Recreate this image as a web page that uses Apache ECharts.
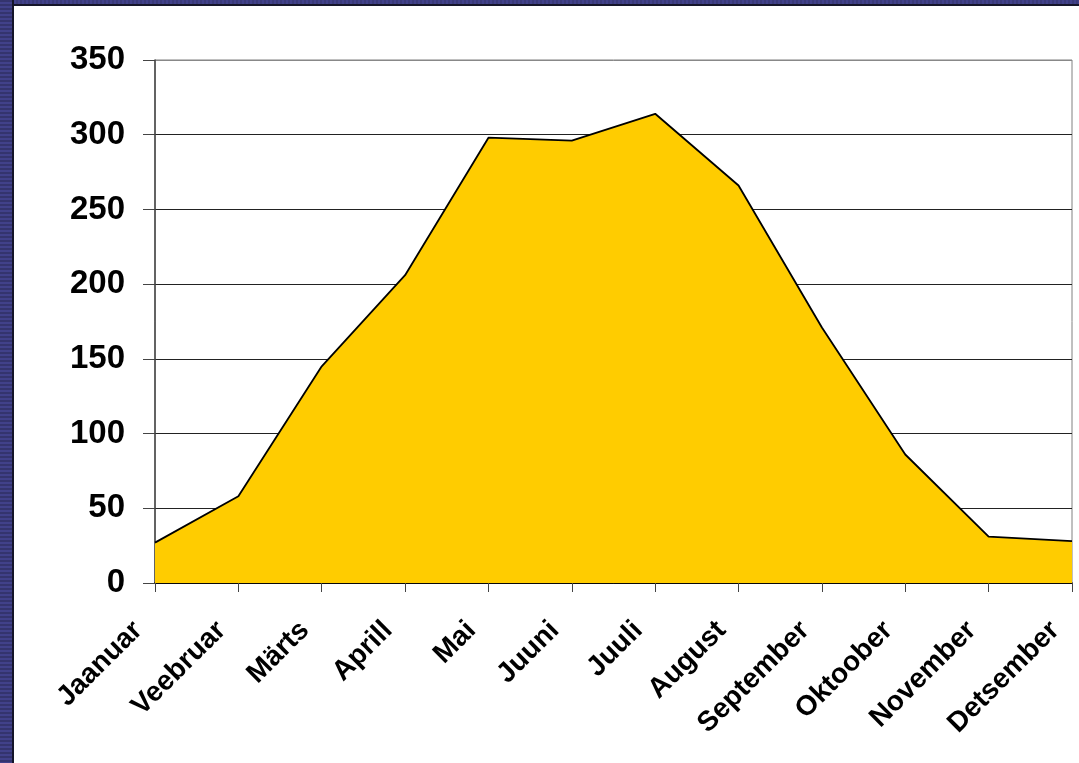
<!DOCTYPE html>
<html>
<head>
<meta charset="utf-8">
<script src="https://cdn.jsdelivr.net/npm/echarts@6/dist/echarts.min.js"></script>
<style>
  html, body { margin: 0; padding: 0; background: #ffffff; }
  #chart { position: absolute; left: 0; top: 0; width: 1079px; height: 763px; }
  .bl { position: absolute; left: 0; top: 0; width: 12px; height: 763px;
        background: repeating-linear-gradient(180deg, #34346e 0px, #34346e 2px, #41418a 2px, #41418a 4px);
        border-right: 2px solid #15152a; z-index: 2; }
  .bt { position: absolute; left: 0; top: 0; width: 1079px; height: 4px;
        background: repeating-linear-gradient(90deg, #3a3a7a 0px, #3a3a7a 2px, #41418a 2px, #41418a 4px);
        border-bottom: 2px solid #15152a; z-index: 2; }
</style>
</head>
<body>
<div id="chart"></div>
<div class="bt"></div>
<div class="bl"></div>
<script>
const categories = ['Jaanuar', 'Veebruar', 'Märts', 'Aprill', 'Mai', 'Juuni', 'Juuli', 'August', 'September', 'Oktoober', 'November', 'Detsember'];
const values = [27, 58, 145, 206, 298, 296, 314, 266, 171, 86, 31, 28];
const yTicks = { min: 0, max: 350, interval: 50 };

const chart = echarts.init(document.getElementById('chart'), null, { renderer: 'canvas' });
const font = 'Liberation Sans, Arial, sans-serif';
chart.setOption({
  animation: false,
  backgroundColor: 'transparent',
  grid: {
    left: 155, right: 7, top: 60, bottom: 180,
    containLabel: false, outerBoundsMode: 'none',
    show: true, borderColor: '#808080', borderWidth: 1, backgroundColor: 'transparent'
  },
  xAxis: {
    type: 'category',
    data: categories,
    boundaryGap: false,
    axisLine: { show: true, lineStyle: { color: '#000', width: 1.5 } },
    axisTick: { show: true, inside: false, length: 9, alignWithLabel: true, lineStyle: { color: '#444', width: 1 } },
    axisLabel: {
      interval: 0, rotate: 45, margin: 26, padding: [0, 24, 0, 0],
      fontFamily: font, fontWeight: 'bold', fontSize: 28, color: '#000'
    },
    splitLine: { show: false }
  },
  yAxis: {
    type: 'value',
    min: yTicks.min, max: yTicks.max, interval: yTicks.interval,
    axisLine: { show: true, lineStyle: { color: '#444', width: 1.5 } },
    axisTick: { show: true, inside: false, length: 12, lineStyle: { color: '#444', width: 1 } },
    axisLabel: { margin: 30, fontFamily: font, fontWeight: 'bold', fontSize: 33, color: '#000' },
    splitLine: { show: true, lineStyle: { color: ['#222', '#222', '#222', '#222', '#222', '#222', '#222', '#888'], width: 1 } }
  },
  series: [{
    type: 'line',
    data: values,
    symbol: 'none',
    lineStyle: { color: '#000', width: 1.8 },
    areaStyle: { color: '#FFCC00', opacity: 1 },
    z: 3
  }]
});
</script>
</body>
</html>
